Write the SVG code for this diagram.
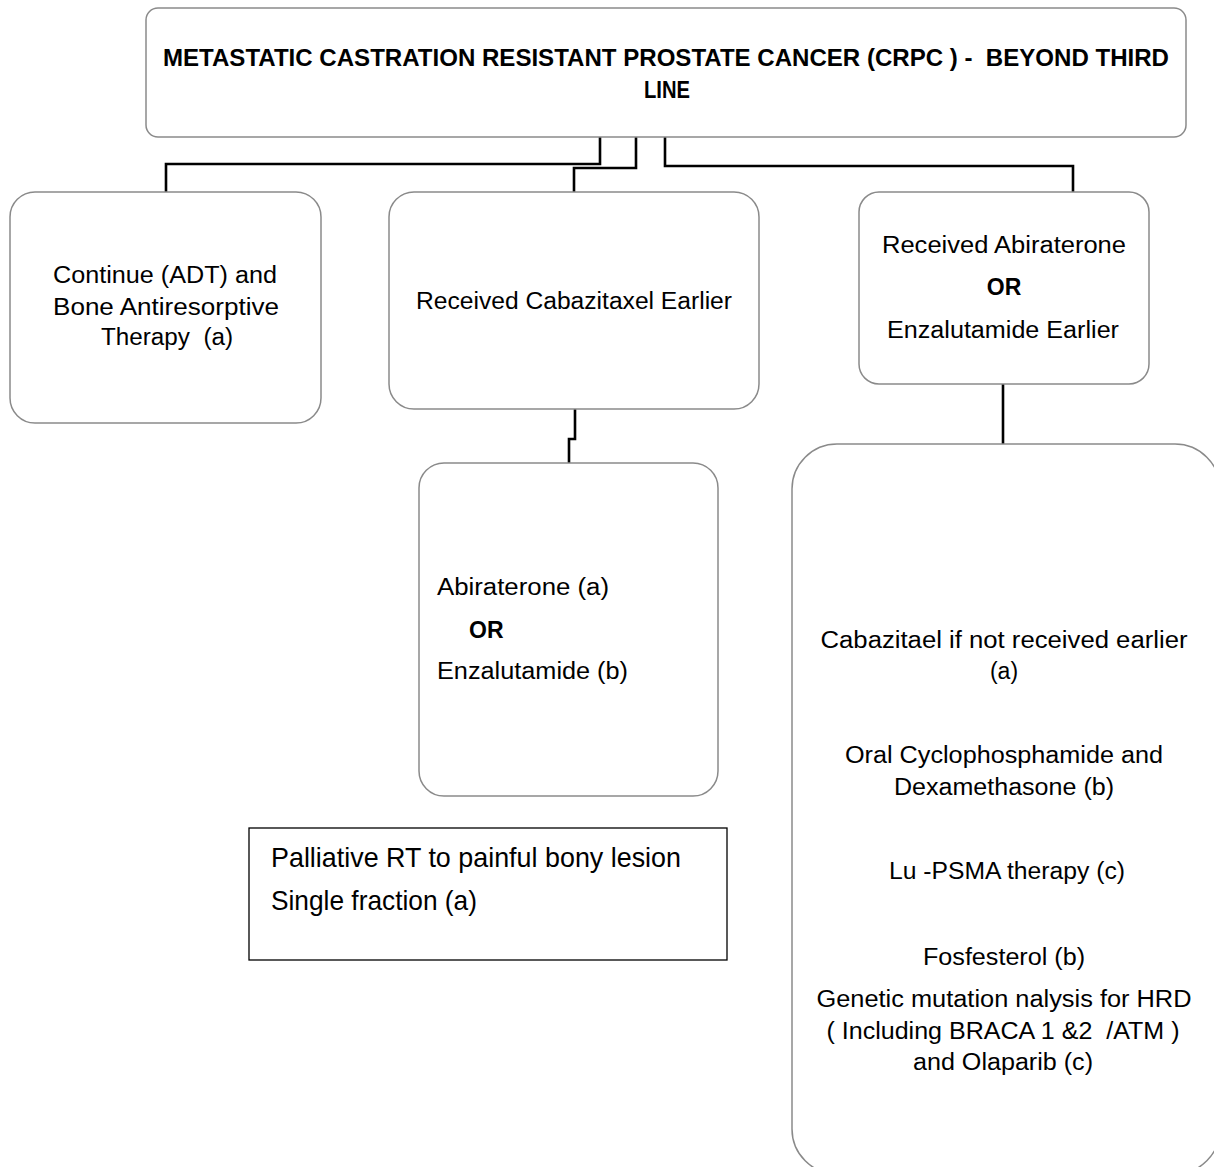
<svg xmlns="http://www.w3.org/2000/svg" width="1214" height="1167" viewBox="0 0 1214 1167">
<style>
.box{fill:#fff;stroke:#8a8a8a;stroke-width:1.5}
.pbox{fill:#fff;stroke:#000;stroke-width:1.3}
.conn{fill:none;stroke:#000;stroke-width:2.6}
text{font-family:"Liberation Sans",Arial,sans-serif;font-size:23px;fill:#000;white-space:pre}
.t{font-weight:bold;font-size:23px}
.p{font-size:28px}
.c{text-anchor:middle}
.b{font-weight:bold}
</style>
<rect width="1214" height="1167" fill="#fff"/>
<g id="connectors">
<polyline class="conn" points="600,137 600,164 166,164 166,192"/>
<polyline class="conn" points="636,137 636,168 574,168 574,192"/>
<polyline class="conn" points="665,137 665,166 1073,166 1073,192"/>
<polyline class="conn" points="575,409 575,439 569,439 569,463"/>
<polyline class="conn" points="1003,384 1003,444"/>
</g>
<g id="root">
<rect class="box" x="146" y="8" width="1040" height="129" rx="12"/>
<text class="t c" x="666" y="66" textLength="1006" lengthAdjust="spacingAndGlyphs">METASTATIC CASTRATION RESISTANT PROSTATE CANCER (CRPC ) -  BEYOND THIRD</text>
<text class="t c" x="667" y="98" textLength="46" lengthAdjust="spacingAndGlyphs">LINE</text>
</g>
<g id="continue-adt">
<rect class="box" x="10" y="192" width="311" height="231" rx="25"/>
<text class="c" x="165" y="283" textLength="224" lengthAdjust="spacingAndGlyphs">Continue (ADT) and</text>
<text class="c" x="166" y="315" textLength="226" lengthAdjust="spacingAndGlyphs">Bone Antiresorptive</text>
<text class="c" x="167" y="345" textLength="132" lengthAdjust="spacingAndGlyphs">Therapy  (a)</text>
</g>
<g id="received-cabazitaxel">
<rect class="box" x="389" y="192" width="370" height="217" rx="25"/>
<text class="c" x="574" y="309" textLength="316" lengthAdjust="spacingAndGlyphs">Received Cabazitaxel Earlier</text>
</g>
<g id="received-abiraterone">
<rect class="box" x="859" y="192" width="290" height="192" rx="20"/>
<text class="c" x="1004" y="253" textLength="244" lengthAdjust="spacingAndGlyphs">Received Abiraterone</text>
<text class="c b" x="1004" y="295">OR</text>
<text class="c" x="1003" y="338" textLength="232" lengthAdjust="spacingAndGlyphs">Enzalutamide Earlier</text>
</g>
<g id="abiraterone-enzalutamide">
<rect class="box" x="419" y="463" width="299" height="333" rx="25"/>
<text x="437" y="595" textLength="172" lengthAdjust="spacingAndGlyphs">Abiraterone (a)</text>
<text class="b" x="469" y="638">OR</text>
<text x="437" y="679" textLength="191" lengthAdjust="spacingAndGlyphs">Enzalutamide (b)</text>
</g>
<g id="palliative-rt">
<rect class="pbox" x="249" y="828" width="478" height="132"/>
<text class="p" x="271" y="867" textLength="410" lengthAdjust="spacingAndGlyphs">Palliative RT to painful bony lesion</text>
<text class="p" x="271" y="910" textLength="206" lengthAdjust="spacingAndGlyphs">Single fraction (a)</text>
</g>
<g id="later-options">
<rect class="box" x="792" y="444" width="428" height="730" rx="45"/>
<text class="c" x="1004" y="648" textLength="367" lengthAdjust="spacingAndGlyphs">Cabazitael if not received earlier</text>
<text class="c" x="1004" y="679">(a)</text>
<text class="c" x="1004" y="763" textLength="318" lengthAdjust="spacingAndGlyphs">Oral Cyclophosphamide and</text>
<text class="c" x="1004" y="795" textLength="220" lengthAdjust="spacingAndGlyphs">Dexamethasone (b)</text>
<text class="c" x="1007" y="879" textLength="236" lengthAdjust="spacingAndGlyphs">Lu -PSMA therapy (c)</text>
<text class="c" x="1004" y="965" textLength="162" lengthAdjust="spacingAndGlyphs">Fosfesterol (b)</text>
<text class="c" x="1004" y="1007" textLength="375" lengthAdjust="spacingAndGlyphs">Genetic mutation nalysis for HRD</text>
<text class="c" x="1003" y="1039" textLength="353" lengthAdjust="spacingAndGlyphs">( Including BRACA 1 &amp;2  /ATM )</text>
<text class="c" x="1003" y="1070" textLength="180" lengthAdjust="spacingAndGlyphs">and Olaparib (c)</text>
</g>
</svg>
